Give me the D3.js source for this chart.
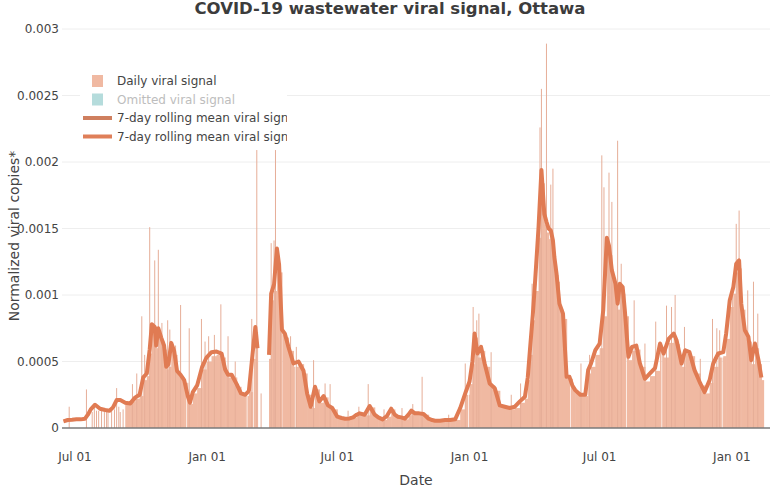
<!DOCTYPE html>
<html><head><meta charset="utf-8">
<script src="https://cdn.jsdelivr.net/npm/d3@7"></script>
<style>
body{margin:0;background:#fff;}
svg{display:block;font-family:"DejaVu Sans",Verdana,sans-serif;}
</style>
</head><body>
<svg id="chart" width="780" height="488"></svg>
<script>
// ---------------- data ----------------
const chartTitle = "COVID-19 wastewater viral signal, Ottawa";
const xTitle = "Date";
const yTitle = "Normalized viral copies*";
const dayZero = "2020-07-01";          // day offsets below count from this date
const valueUnit = 1e-4;                 // values below are in units of 1e-4
const xDomainDates = ["2020-06-13", "2023-02-23"];
const lastDataDay = 958;

// 7-day rolling mean (sampled along the curve)
const meanDay = [-16,-10,-4,2,8,14,18,22,28,35,
 42,48,53,58,63,70,77,84,90,95,
 100,104,107,111,113,116,120,124,127,130,
 134,138,142,147,152,157,160,164,170,177,
 183,190,197,204,209,213,218,225,231,237,
 242,247,251,254,262,270,273,277,281,284,
 288,292,297,304,311,318,323,328,334,340,
 346,352,358,365,371,376,382,387,392,396,
 403,410,417,422,428,434,440,445,449,454,
 459,464,468,473,479,485,492,497,501,508,
 515,522,529,536,543,549,553,556,560,565,
 570,577,584,591,598,605,612,619,626,630,
 633,637,640,645,649,653,656,659,662,665,
 667,670,674,679,684,688,692,696,703,710,
 714,718,724,730,735,740,743,747,752,755,
 758,762,765,770,775,781,786,793,800,807,
 814,819,826,833,837,841,844,849,855,862,
 870,876,883,888,895,902,906,911,916,920,
 924,927,932,937,941,946,951,955];
const meanValue = [0.5,0.6,0.62,0.65,0.65,0.7,1.0,1.4,1.75,1.45,
 1.35,1.3,1.55,2.1,2.1,1.9,1.85,2.3,2.5,3.8,
 4.1,5.9,7.8,7.6,6.2,7.5,6.8,6.2,4.6,4.8,
 6.4,5.8,4.3,4.0,3.6,2.4,1.9,2.7,3.2,4.6,
 5.3,5.7,5.75,5.6,4.4,4.0,4.0,3.3,2.6,2.5,
 2.8,5.5,7.6,6.0,null,5.5,10.1,10.8,13.5,12.3,
 7.4,7.1,6.1,4.85,5.0,4.3,2.6,1.6,3.1,2.0,
 2.4,1.7,1.5,0.85,0.75,0.7,0.72,0.8,1.0,1.1,
 1.0,1.65,1.0,0.8,0.65,0.9,1.45,1.0,0.85,0.8,
 0.7,1.0,1.3,1.1,1.1,1.05,0.7,0.6,0.55,0.55,
 0.6,0.6,0.65,1.5,2.6,3.5,5.0,7.1,5.6,6.1,
 4.85,3.35,3.0,1.7,1.6,1.5,1.6,2.0,2.35,3.8,
 5.85,8.5,10.85,15.1,19.4,16.1,15.5,15.0,14.85,14.1,
 12.85,11.6,9.35,8.6,3.85,3.85,3.2,2.85,2.5,2.5,
 4.35,4.85,5.85,6.35,8.85,14.3,13.7,11.85,10.85,9.35,
 10.85,10.6,8.85,5.35,6.1,6.2,4.85,3.7,4.1,4.5,
 6.35,5.6,6.7,7.1,6.6,5.6,4.85,5.85,5.7,4.35,
 3.35,2.7,3.6,4.85,5.6,5.7,7.1,9.6,10.6,12.35,
 12.6,9.35,7.35,6.85,5.1,6.35,5.1,3.8];
// typical daily signal level from each sample day to the next
const dailyLevel = [null,null,null,null,null,null,null,null,null,null,
 null,null,null,null,null,1.9,2.0,2.2,2.4,3.6,
 3.9,5.6,7.4,7.2,6.0,7.1,6.5,5.9,4.4,4.6,
 6.0,5.5,4.1,3.8,3.4,2.2,1.8,2.6,3.0,4.4,
 5.0,5.4,5.5,5.3,4.2,3.8,3.8,3.1,2.5,2.4,
 2.7,5.2,7.2,null,null,5.2,9.6,10.3,12.8,11.7,
 7.0,6.8,5.8,4.6,4.8,4.1,2.5,1.5,2.9,1.9,
 2.3,1.6,1.4,0.8,0.7,0.65,0.7,0.75,0.95,1.05,
 0.95,1.55,0.95,0.75,0.6,0.85,1.4,0.95,0.8,0.75,
 0.65,0.95,1.25,1.05,1.05,1.0,0.65,0.55,0.5,0.5,
 0.55,0.55,0.6,1.4,2.5,3.3,4.8,6.8,5.3,5.8,
 4.6,3.2,2.8,1.6,1.5,1.4,1.5,1.9,2.2,3.6,
 5.5,8.1,10.3,14.3,18.4,15.3,14.7,14.2,14.1,13.4,
 12.2,11.0,8.9,8.2,3.7,3.7,3.0,2.7,2.4,2.4,
 4.1,4.6,5.5,6.0,8.4,13.6,13.0,11.3,10.3,8.9,
 10.3,10.1,8.4,5.1,5.8,5.9,4.6,3.5,3.9,4.3,
 6.0,5.3,6.4,6.7,6.3,5.3,4.6,5.6,5.4,4.1,
 3.2,2.6,3.4,4.6,5.3,5.4,6.7,9.1,10.1,11.7,
 12.0,8.9,7.0,6.5,4.8,6.0,4.8,3.6];
// individual daily readings standing out from the fill
const spikeDay = [-8,16,24,27,30,33,37,41,44,46,51,55,58,61,63,67,80,86,93,97,
 104,111,116,121,129,132,140,147,159,176,181,186,194,203,213,223,246,253,259,273,
 277,279,286,300,308,332,348,355,380,395,408,430,455,470,483,520,543,554,559,562,
 579,607,620,636,647,649,656,662,665,672,704,716,733,736,743,747,755,760,778,793,
 808,823,830,835,848,870,887,893,897,915,920,924,936,944,950];
const spikeValue = [1.6,2.9,1.2,1.6,1.3,1.3,1.4,1.2,1.4,1.2,1.3,1.4,3.0,1.6,1.2,1.4,3.3,4.1,8.4,5.5,
 15.1,12.6,13.4,7.9,8.1,7.4,6.2,9.25,7.5,8.2,6.5,6.9,7.0,9.3,6.9,5.0,8.2,20.9,2.6,13.9,
 14.1,20.9,8.5,6.9,6.1,5.1,3.35,3.3,1.3,1.6,3.3,1.4,1.5,1.8,3.85,1.0,4.85,9.1,8.1,8.6,
 5.7,2.5,3.35,10.85,22.6,25.5,28.9,18.3,19.5,11.5,4.85,5.5,20.5,18.1,19.2,17.0,21.6,12.35,9.6,6.35,
 8.0,9.2,9.1,10.0,7.6,5.2,8.2,7.5,7.35,11.0,15.35,16.35,10.35,11.0,8.6];
// days with no reading
const missingDay = [155,239,248,288,306,547,689,767,816,900];

const yTicks = [0, 0.0005, 0.001, 0.0015, 0.002, 0.0025, 0.003];
const yTickLabels = ["0","0.0005","0.001","0.0015","0.002","0.0025","0.003"];
const xTickDates = ["2020-07-01","2021-01-01","2021-07-01","2022-01-01","2022-07-01","2023-01-01"];
const xTickLabels = ["Jul 01","Jan 01","Jul 01","Jan 01","Jul 01","Jan 01"];
const legendLabels = ["Daily viral signal","Omitted viral signal",
  "7-day rolling mean viral signal","7-day rolling mean viral signal"];

// ---------------- drawing ----------------
const W = 780, H = 488;
const plot = {left: 62, right: 770, top: 29, bottom: 428};
const parse = d3.utcParse("%Y-%m-%d");
const d0 = parse(dayZero);
const dayDate = d => d3.utcDay.offset(d0, d);

const x = d3.scaleUtc().domain(xDomainDates.map(parse)).range([plot.left, plot.right]);
const y = d3.scaleLinear().domain([0, 0.003]).range([plot.bottom, plot.top]);

const svg = d3.select("#chart");
const textColor = "#444";
const barColor = "#f0b9a2";
const spikeColor = "#e6ae98";
const lineColor = "#e07b53";

// gridlines
svg.append("g").selectAll("line").data(yTicks.filter(t => t > 0)).join("line")
  .attr("x1", plot.left).attr("x2", plot.right)
  .attr("y1", d => y(d)).attr("y2", d => y(d))
  .attr("stroke", "#eeeeee").attr("stroke-width", 1);

// daily bars (fill)
const segs = [];
meanDay.forEach((d, i) => {
  const v = dailyLevel[i];
  if (v == null) return;
  const end = i + 1 < meanDay.length ? meanDay[i + 1] : lastDataDay;
  let start = d;
  missingDay.filter(m => m >= d && m < end).sort((a, b) => a - b).forEach(m => {
    if (m > start) segs.push({a: start, b: m, v, cut: true});
    start = m + 1;
  });
  if (end > start) segs.push({a: start, b: end, v, cut: false});
});
svg.append("g").selectAll("rect").data(segs).join("rect")
  .attr("x", s => x(dayDate(s.a)))
  .attr("width", s => x(dayDate(s.b)) - x(dayDate(s.a)) + (s.cut ? 0 : 0.6))
  .attr("y", s => y(s.v * valueUnit))
  .attr("height", s => plot.bottom - y(s.v * valueUnit))
  .attr("fill", barColor);

// single-day bars
svg.append("g").selectAll("rect").data(spikeDay.map((d, i) => ({d, v: spikeValue[i]}))).join("rect")
  .attr("x", s => x(dayDate(s.d)) - 0.5)
  .attr("width", 1)
  .attr("y", s => y(s.v * valueUnit))
  .attr("height", s => plot.bottom - y(s.v * valueUnit))
  .attr("fill", spikeColor);

// zero line
svg.append("line").attr("x1", plot.left).attr("x2", plot.right)
  .attr("y1", y(0)).attr("y2", y(0)).attr("stroke", "#7a7a7a").attr("stroke-width", 1.5);

// rolling mean line
const line = d3.line()
  .defined(i => meanValue[i] != null)
  .x(i => x(dayDate(meanDay[i])))
  .y(i => y(meanValue[i] * valueUnit));
svg.append("path").attr("d", line(d3.range(meanDay.length)))
  .attr("fill", "none").attr("stroke", lineColor).attr("stroke-width", 4)
  .attr("stroke-linejoin", "round").attr("stroke-linecap", "butt");

// y tick labels
svg.append("g").selectAll("text").data(yTicks).join("text")
  .attr("x", 59).attr("y", d => y(d)).attr("dy", "0.35em")
  .attr("text-anchor", "end").attr("font-size", 12).attr("fill", textColor)
  .text((d, i) => yTickLabels[i]);

// x tick labels
svg.append("g").selectAll("text").data(xTickDates).join("text")
  .attr("x", d => x(parse(d))).attr("y", 461)
  .attr("text-anchor", "middle").attr("font-size", 12).attr("fill", textColor)
  .text((d, i) => xTickLabels[i]);

// titles
svg.append("text").attr("x", W / 2).attr("y", 14).attr("text-anchor", "middle")
  .attr("font-size", 16.5).attr("font-weight", "bold").attr("fill", "#3c3c3c").text(chartTitle);
svg.append("text").attr("x", (plot.left + plot.right) / 2).attr("y", 485).attr("text-anchor", "middle")
  .attr("font-size", 14).attr("fill", textColor).text(xTitle);
svg.append("text").attr("transform", "translate(19,236) rotate(-90)").attr("text-anchor", "middle")
  .attr("font-size", 14).attr("fill", textColor).text(yTitle);

// legend
const lg = svg.append("g");
svg.append("defs").append("clipPath").attr("id", "legclip")
  .append("rect").attr("x", 80).attr("y", 66).attr("width", 207).attr("height", 82);
lg.append("rect").attr("x", 80).attr("y", 68).attr("width", 207).attr("height", 79).attr("fill", "#fff");
const rowY = [81, 99.5, 118, 136.5];
const items = [
  {type: "sq", color: barColor, textColor: textColor},
  {type: "sq", color: "#b5dcdc", textColor: "#bdbdbd"},
  {type: "ln", color: "#cf7f5f", textColor: textColor},
  {type: "ln", color: "#df7f59", textColor: textColor}
];
const lgi = lg.append("g").attr("clip-path", "url(#legclip)");
items.forEach((it, i) => {
  if (it.type === "sq") {
    lgi.append("rect").attr("x", 92).attr("y", rowY[i] - 6).attr("width", 11).attr("height", 12)
      .attr("fill", it.color);
  } else {
    lgi.append("line").attr("x1", 83).attr("x2", 112).attr("y1", rowY[i]).attr("y2", rowY[i])
      .attr("stroke", it.color).attr("stroke-width", 4);
  }
  lgi.append("text").attr("x", 117).attr("y", rowY[i]).attr("dy", "0.35em")
    .attr("font-size", 12).attr("fill", it.textColor).text(legendLabels[i]);
});
</script>
</body></html>
